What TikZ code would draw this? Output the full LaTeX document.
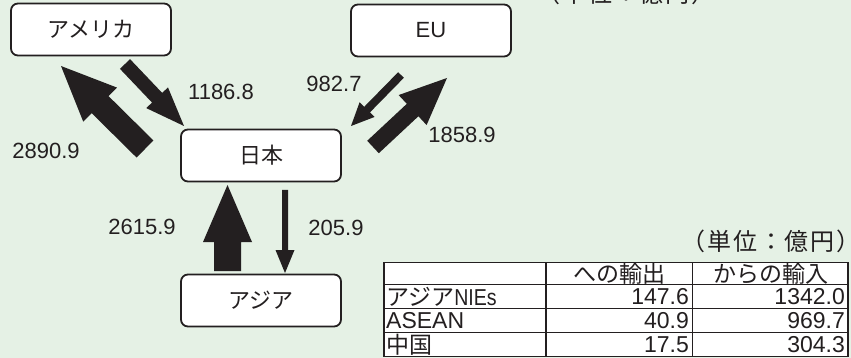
\documentclass[tikz,border=0pt]{standalone}
\usepackage{fontspec}
\setmainfont{Liberation Sans}
\newfontfamily\jp{Noto Sans CJK JP}
\newfontfamily\jpsp[LetterSpace=8]{Noto Sans CJK JP}
\newfontfamily\cond[FakeStretch=0.85]{Liberation Sans}
\usetikzlibrary{calc}
\definecolor{bg}{RGB}{229,241,229}
\definecolor{ink}{RGB}{35,31,32}
\tikzset{
  box/.style={draw=ink, line width=1.8pt, fill=white, rounded corners=7pt,
    minimum width=160pt, minimum height=52pt, inner sep=0pt,
    font=\jp\fontsize{22}{26}\selectfont, text=ink},
  num/.style={font=\fontsize{22}{26}\selectfont, text=ink, inner sep=0pt},
  tcell/.style={font=\fontsize{23}{26}\selectfont, text=ink, inner sep=0pt},
  tjp/.style={font=\jp\fontsize{23}{26}\selectfont, text=ink, inner sep=0pt},
  unitnote/.style={font=\jpsp\fontsize{24}{26}\selectfont, text=ink, inner sep=0pt},
  tline/.style={draw=ink, line width=1.4pt},
  arrfill/.style={fill=ink}
}
% tail, tip, half shaft width, half head width, head length
\newcommand\blockarr[5]{%
  \path ($(#2)!#5!(#1)$) coordinate (ba);
  \fill[arrfill] ($(#1)!#3!90:(#2)$) -- ($(ba)!#3!90:(#2)$) -- ($(ba)!#4!90:(#2)$)
    -- (#2) -- ($(ba)!#4!-90:(#2)$) -- ($(ba)!#3!-90:(#2)$) -- ($(#1)!#3!-90:(#2)$) -- cycle;}
\begin{document}
\begin{tikzpicture}[x=1pt,y=-1pt]
\useasboundingbox (0,0) rectangle (851,358);
\clip (0,0) rectangle (851,358);
\fill[bg] (0,0) rectangle (851,358);

% boxes
\node[box] (us) at (91,29.5) {アメリカ};
\node[box, font=\fontsize{22}{26}\selectfont] (eu) at (431,30.5) {EU};
\node[box] (jp) at (261,155.5) {日本};
\node[box] (asia) at (261,300.5) {アジア};

% arrow end points
\coordinate (usA) at (125,64);  \coordinate (usB) at (184,126);
\coordinate (jpUA) at (145,149); \coordinate (jpUB) at (61,66);
\coordinate (euA) at (401,75);  \coordinate (euB) at (351,126);
\coordinate (jpEA) at (373,147); \coordinate (jpEB) at (447,78);
\coordinate (asA) at (227.5,271); \coordinate (asB) at (227.5,185);
\coordinate (jpAA) at (285,190); \coordinate (jpAB) at (285,273);

\blockarr{usA}{usB}{7pt}{15pt}{39pt}
\blockarr{jpUA}{jpUB}{12pt}{24pt}{55pt}
\blockarr{euA}{euB}{4pt}{10.5pt}{23pt}
\blockarr{jpEA}{jpEB}{8.5pt}{20.5pt}{47pt}
\blockarr{asA}{asB}{13.5pt}{24.5pt}{57pt}
\blockarr{jpAA}{jpAB}{3pt}{9.5pt}{23pt}

% flow labels
\node[num] (l1) at (221,92) {1186.8};
\node[num] (l2) at (334,84) {982.7};
\node[num] (l3) at (46,151) {2890.9};
\node[num] (l4) at (462,135) {1858.9};
\node[num] (l5) at (142,227) {2615.9};
\node[num] (l6) at (336,228) {205.9};

% unit notes
\node[unitnote] (u1) at (626,-7) {（単位：億円）};
\node[unitnote] (u2) at (771,241) {（単位：億円）};

% table
\fill[white] (384,262.5) rectangle (848,356.5);
\draw[tline] (384,262.5) rectangle (848,356.5);
\foreach \yy in {284.5,308.5,332.5} \draw[tline] (384,\yy) -- (848,\yy);
\foreach \xx in {546,692.5} \draw[tline] (\xx,262.5) -- (\xx,356.5);

\node[tjp] (h1) at (619,273.5) {への輸出};
\node[tjp] (h2) at (770.5,273.5) {からの輸入};

\node[tjp, anchor=west] (r1) at (386,296.5) {アジア{\cond\fontsize{23}{26}\selectfont NIEs}};
\node[tcell, anchor=west] (r2) at (386,320.5) {ASEAN};
\node[tjp, anchor=west] (r3) at (386,344.5) {中国};

\node[tcell, anchor=east] (a1) at (689,296.5) {147.6};
\node[tcell, anchor=east] (b1) at (845,296.5) {1342.0};
\node[tcell, anchor=east] (a2) at (689,320.5) {40.9};
\node[tcell, anchor=east] (b2) at (845,320.5) {969.7};
\node[tcell, anchor=east] (a3) at (689,344.5) {17.5};
\node[tcell, anchor=east] (b3) at (845,344.5) {304.3};
\end{tikzpicture}
\end{document}
